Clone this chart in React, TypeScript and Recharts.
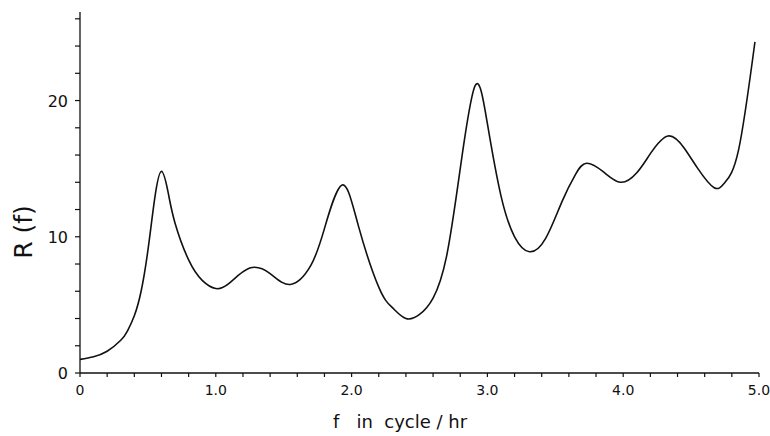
import { Line, LineChart, XAxis, YAxis } from "recharts";

const freq = [
  0, 0.1, 0.2, 0.3, 0.35, 0.4, 0.45, 0.5, 0.55, 0.6, 0.65, 0.7, 0.8, 0.9, 1.0, 1.1, 1.25, 1.4, 1.55,
  1.7, 1.8, 1.93, 2.05, 2.2, 2.3, 2.4, 2.5, 2.6, 2.7, 2.8, 2.91, 3.0, 3.1, 3.2, 3.31, 3.43, 3.55,
  3.65, 3.73, 3.85, 3.98, 4.1, 4.2, 4.33, 4.45, 4.55, 4.67, 4.75, 4.85, 4.97,
];
const rValues = [
  1.0, 1.2, 1.6, 2.4, 3.1, 4.2, 6.0, 9.0, 12.8, 14.8, 13.2, 11.0, 8.3, 6.8, 6.2, 6.6, 7.7, 7.3, 6.5,
  7.9, 10.6, 13.8, 10.8, 6.3, 4.8, 4.0, 4.3, 5.5, 8.6, 15.0, 21.1, 18.3, 13.0, 10.0, 8.9, 9.9, 12.6,
  14.6, 15.4, 14.8, 14.0, 14.7, 16.1, 17.4, 16.5, 15.0, 13.6, 14.0, 16.4, 24.3,
];
const xTicks = [
  0, 0.2, 0.4, 0.6, 0.8, 1, 1.2, 1.4, 1.6, 1.8, 2, 2.2, 2.4, 2.6, 2.8, 3, 3.2, 3.4, 3.6, 3.8, 4, 4.2,
  4.4, 4.6, 4.8, 5,
];
const yTicks = [0, 2, 4, 6, 8, 10, 12, 14, 16, 18, 20, 22, 24, 26];

const data = freq.map((f, i) => ({ f, r: rValues[i] }));

const font = "'DejaVu Sans', sans-serif";

function XTick(props: any) {
  const { x, y, payload } = props;
  const v = payload.value;
  if (Math.abs(v - Math.round(v)) > 1e-6) return null;
  const label = v === 0 ? "0" : v.toFixed(1);
  return (
    <text x={x} y={y} dy={15} textAnchor="middle" fontSize={14} fontFamily={font} fill="#111">
      {label}
    </text>
  );
}

function YTick(props: any) {
  const { x, y, payload } = props;
  const v = payload.value;
  if (v % 10 !== 0) return null;
  return (
    <text x={x} y={y} dy={6} textAnchor="end" fontSize={16} fontFamily={font} fill="#111">
      {v}
    </text>
  );
}

export default function App() {
  return (
    <div style={{ position: "absolute", left: 0, top: 0, width: 770, height: 436, background: "#fff" }}>
      <LineChart width={770} height={436} data={data} margin={{ top: 12, right: 11, bottom: 0, left: 0 }}>
        <XAxis
          dataKey="f"
          type="number"
          domain={[0, 5]}
          ticks={xTicks}
          height={63}
          tickSize={4}
          tickMargin={3}
          tick={<XTick />}
          axisLine={{ stroke: "#111", strokeWidth: 1.3 }}
          tickLine={{ stroke: "#111", strokeWidth: 1.2 }}
        />
        <YAxis
          type="number"
          domain={[0, 26.5]}
          ticks={yTicks}
          width={80}
          tickSize={5}
          tickMargin={7}
          tick={<YTick />}
          axisLine={{ stroke: "#111", strokeWidth: 1.3 }}
          tickLine={{ stroke: "#111", strokeWidth: 1.2 }}
        />
        <Line
          type="natural"
          dataKey="r"
          stroke="#111"
          strokeWidth={1.6}
          dot={false}
          isAnimationActive={false}
        />
      </LineChart>
      <div
        style={{
          position: "absolute",
          left: 23,
          top: 232,
          transform: "translate(-50%, -50%) rotate(-90deg)",
          fontFamily: font,
          fontSize: 25,
          whiteSpace: "pre",
          color: "#111",
        }}
      >
        R (f)
      </div>
      <div
        style={{
          position: "absolute",
          left: 400,
          top: 421,
          transform: "translate(-50%, -50%)",
          fontFamily: font,
          fontSize: 18,
          whiteSpace: "pre",
          color: "#111",
        }}
      >
        {"f   in  cycle / hr"}
      </div>
    </div>
  );
}
